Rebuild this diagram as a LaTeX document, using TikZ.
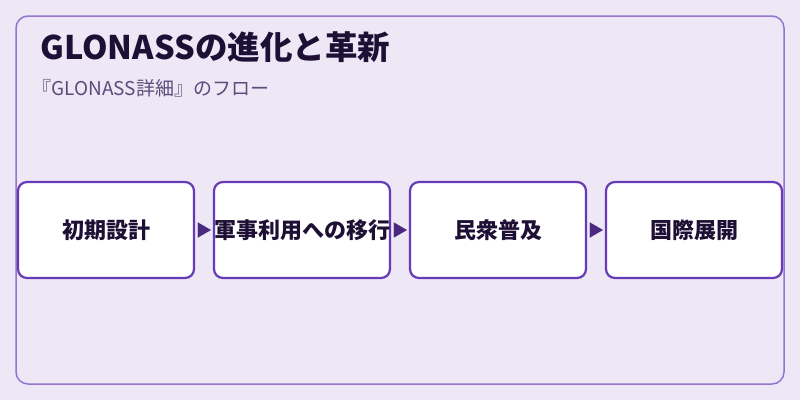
\documentclass[tikz,border=0pt]{standalone}
\usepackage{fontspec}
\setmainfont{Noto Sans CJK JP}
\usepackage{tikz}
\usetikzlibrary{positioning,arrows.meta}
\definecolor{bgcol}{HTML}{EDE7F6}
\definecolor{framecol}{HTML}{9575CD}
\definecolor{boxcol}{HTML}{673AB7}
\definecolor{arrowcol}{HTML}{4A2A80}
\definecolor{titlecol}{HTML}{1E1035}
\definecolor{subcol}{HTML}{5E4B7A}
\tikzset{
	stepbox/.style={draw=boxcol, line width=2.2pt, fill=white, rounded corners=9pt,
		minimum width=176pt, minimum height=96pt, inner sep=0pt,
		font=\fontsize{22pt}{25pt}\selectfont\bfseries, text=titlecol},
	flow/.style={-{Triangle[length=13pt,width=15pt]}, arrowcol, line width=0.1pt, shorten >=2pt},
}
\begin{document}
\begin{tikzpicture}[x=1pt,y=-1pt, node distance=17.8pt]
\useasboundingbox (0,0) rectangle (800,400);
\fill[bgcol] (0,0) rectangle (800,400);
\draw[framecol, line width=1.5pt, rounded corners=12pt] (16,16) rectangle (784,384);
\node[anchor=west, text=titlecol, font=\fontsize{32.5pt}{36pt}\selectfont\bfseries] (title) at (37,47) {GLONASSの進化と革新};
\node[anchor=west, text=subcol, font=\fontsize{19pt}{21pt}\selectfont] (sub) at (29,88) {『GLONASS詳細』のフロー};

\node[stepbox] (s1) at (106,230) {初期設計};
\node[stepbox, right=of s1] (s2) {軍事利用への移行};
\node[stepbox, right=of s2] (s3) {民衆普及};
\node[stepbox, right=of s3] (s4) {国際展開};

\draw[flow] ([xshift=3pt]s1.east) -- (s2.west);
\draw[flow] ([xshift=3pt]s2.east) -- (s3.west);
\draw[flow] ([xshift=3pt]s3.east) -- (s4.west);
\end{tikzpicture}
\end{document}
